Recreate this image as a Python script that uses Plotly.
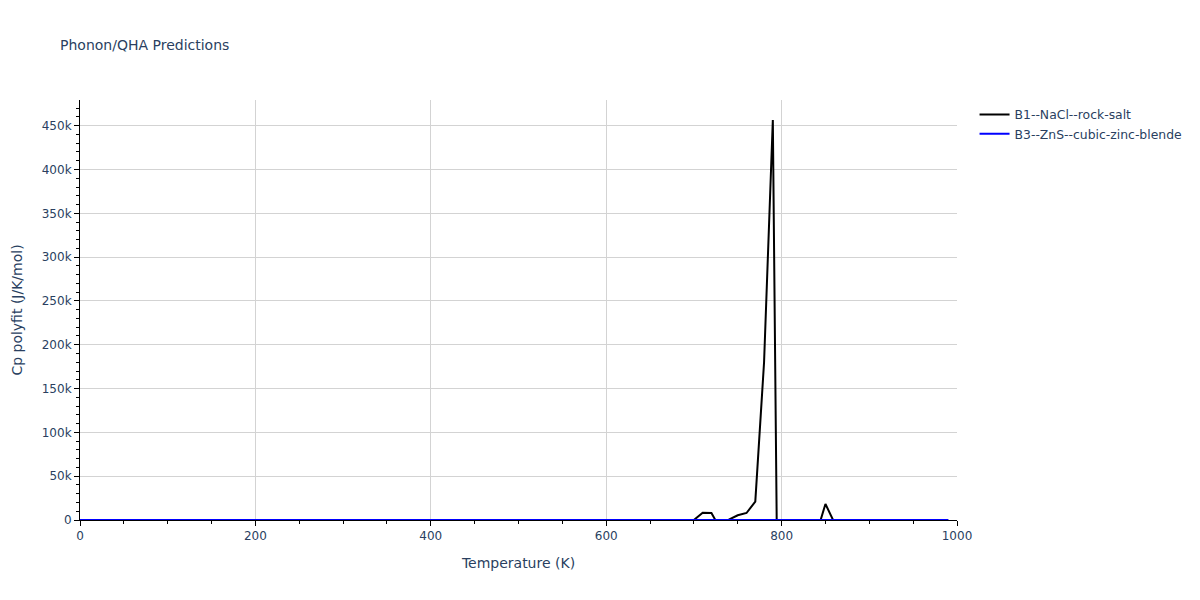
import plotly.graph_objects as go

temperature = list(range(0, 1000, 10))

# B1 (rock-salt) Cp polyfit values, J/K/mol; zeros except near the 700-860 K region
b1_cp = [0.0] * len(temperature)
b1_special = {
    700: 0.0, 710: 8400.0, 720: 8000.0, 730: -10000.0, 740: 500.0,
    750: 5400.0, 760: 8000.0, 770: 21000.0, 780: 180000.0, 790: 456500.0,
    800: -580000.0, 810: -400000.0, 820: -200000.0, 830: -80000.0,
    840: -15000.0, 850: 18300.0, 860: -2700.0,
}
for t, v in b1_special.items():
    b1_cp[temperature.index(t)] = v

b3_cp = [0.0] * len(temperature)

series_names = ["B1--NaCl--rock-salt", "B3--ZnS--cubic-zinc-blende"]
series_colors = ["black", "blue"]

fig = go.Figure()
fig.add_trace(go.Scatter(x=temperature, y=b1_cp, mode="lines", name=series_names[0],
                         line=dict(color=series_colors[0], width=2)))
fig.add_trace(go.Scatter(x=temperature, y=b3_cp, mode="lines", name=series_names[1],
                         line=dict(color=series_colors[1], width=2)))

axis_common = dict(
    showline=True, linecolor="black", linewidth=1,
    ticks="outside", tickcolor="black", ticklen=5,
    showgrid=True, gridcolor="lightgray", gridwidth=1,
    zeroline=False,
)

fig.update_layout(
    width=1200, height=600,
    title=dict(text="Phonon/QHA Predictions", font=dict(size=14)),
    plot_bgcolor="white", paper_bgcolor="white",
    font=dict(family="Verdana, DejaVu Sans, sans-serif", color="#2a3f5f", size=12),
    xaxis=dict(title=dict(text="Temperature (K)"), range=[0, 1000], dtick=200,
               minor=dict(ticks="outside", dtick=50, ticklen=3, tickcolor="black", showgrid=False),
               **axis_common),
    yaxis=dict(title=dict(text="Cp polyfit (J/K/mol)"), range=[0, 479325], dtick=50000,
               minor=dict(ticks="outside", dtick=10000, ticklen=3, tickcolor="black", showgrid=False),
               **axis_common),
    legend=dict(x=1.02, y=1, xanchor="left", yanchor="top", font=dict(size=12.4)),
    showlegend=True,
)

fig.write_html("out.html", config={"displayModeBar": False},
               post_script="document.body.style.margin='0';document.body.style.overflow='hidden';")
